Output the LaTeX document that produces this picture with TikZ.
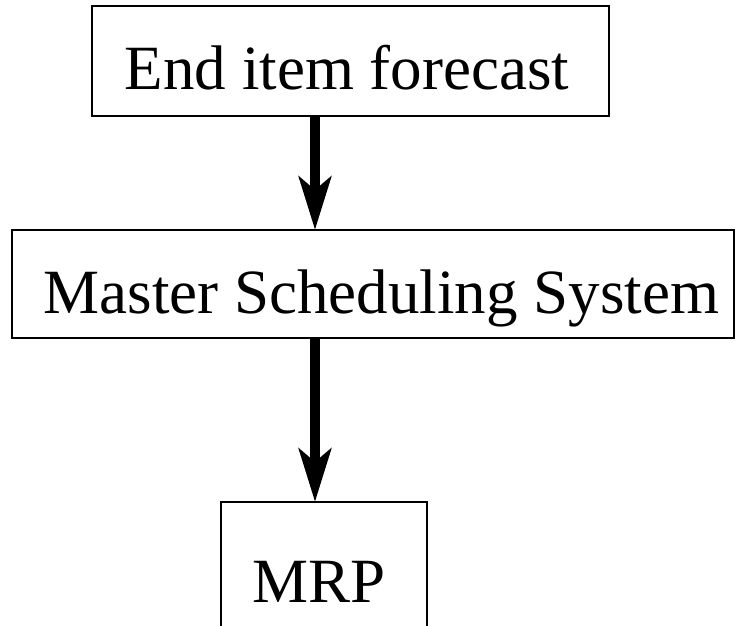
\documentclass[tikz,border=0pt]{standalone}
\usepackage{fontspec}
\setmainfont{Liberation Serif}
\usetikzlibrary{arrows.meta}

\begin{document}
\begin{tikzpicture}[x=1pt, y=-1pt,
  box/.style={draw=black, line width=2pt, inner sep=0pt, outer sep=0pt},
  label/.style={anchor=base, inner sep=0pt, font=\fontsize{63}{70}\selectfont},
  flow/.style={line width=10pt, -{Stealth[length=53pt, width=32pt, inset=13pt]}}]
  \path[use as bounding box] (0,0) rectangle (738,625);
  \clip (0,0) rectangle (738,625);

  % the three stages
  \node[box, minimum width=517pt, minimum height=110pt] (forecast) at (350.5,61) {};
  \node[box, minimum width=722pt, minimum height=108pt] (mss) at (373,284) {};
  \node[box, minimum width=206pt, minimum height=158pt] (mrp) at (324,581) {};

  \node[label] (forecasttext) at (347,89) {End item forecast};
  \node[label] (msstext) at (381.5,313) {Master Scheduling System};
  \node[label] (mrptext) at (319,602) {MRP};

  % vertical flow between stages
  \coordinate (axis) at (315,0);
  \draw[flow] (axis |- forecast.south) -- (axis |- mss.north);
  \draw[flow] (axis |- mss.south) -- (axis |- mrp.north);
\end{tikzpicture}
\end{document}
